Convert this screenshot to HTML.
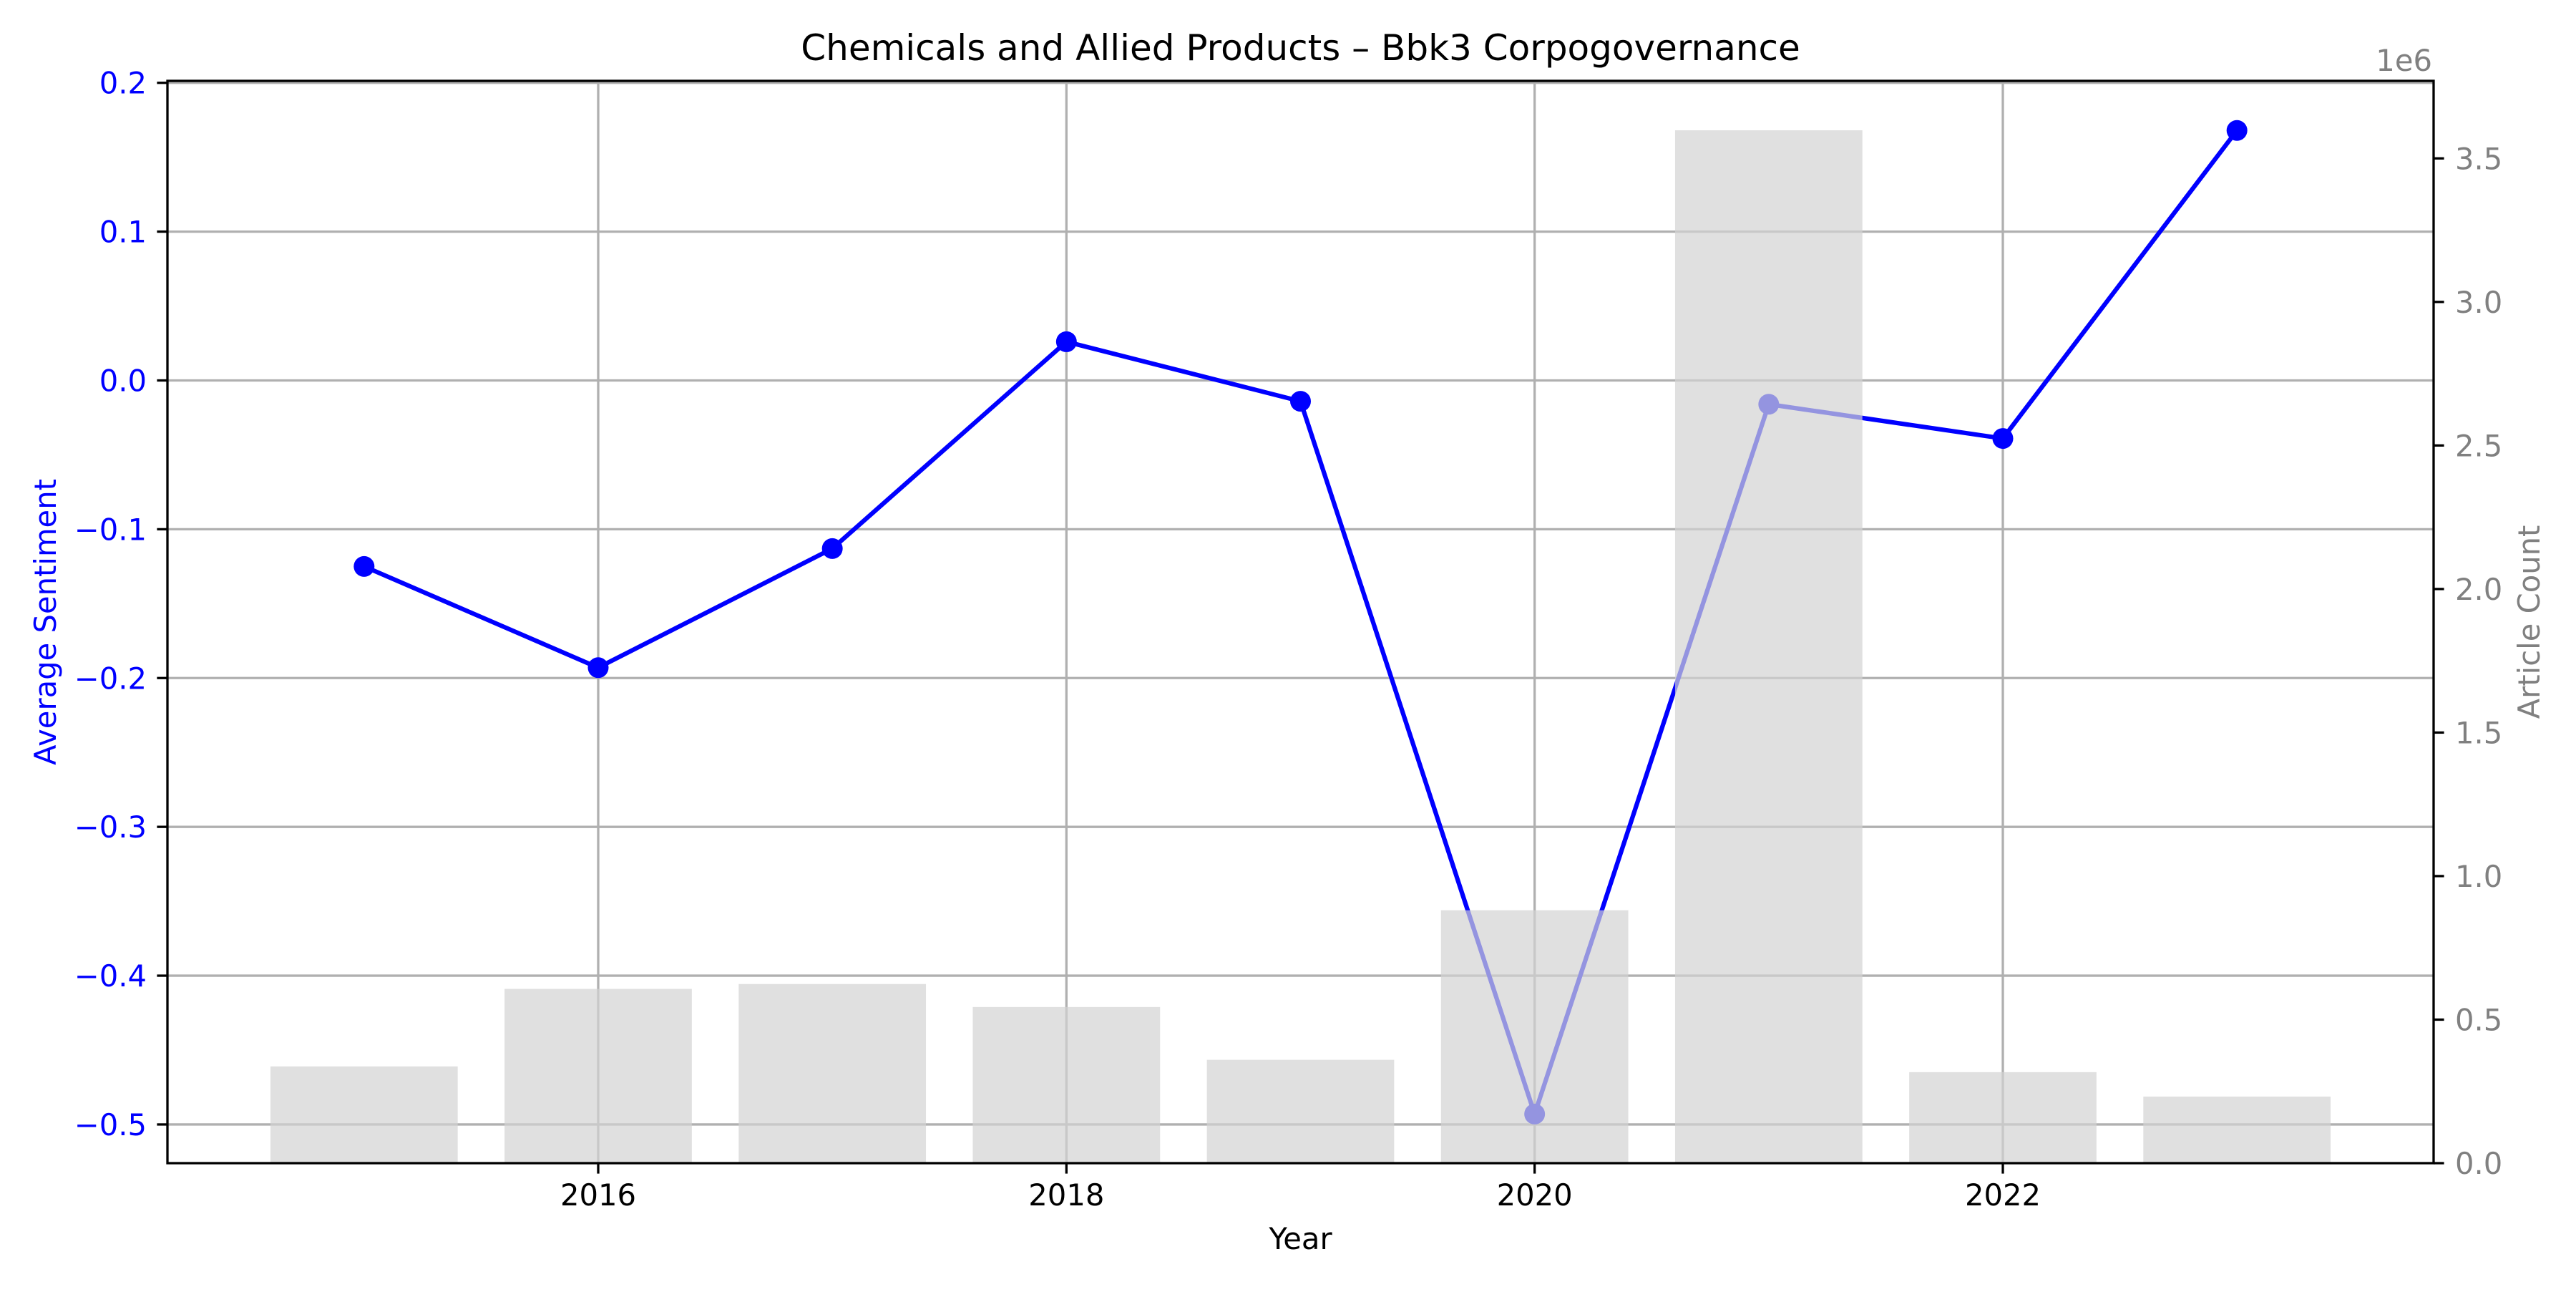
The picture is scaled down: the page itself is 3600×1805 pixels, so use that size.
<!DOCTYPE html>
<html><head><meta charset="utf-8"><style>
html,body{margin:0;padding:0;background:#fff}
svg text{font-family:"DejaVu Sans","Liberation Sans",sans-serif}
</style></head><body>
<svg id="chart" width="3600" height="1800" xmlns="http://www.w3.org/2000/svg">
<rect width="3600" height="1800" fill="#fff"/>
<g id="grid"></g><g id="line"></g><g id="bars"></g><g id="axes"></g>
</svg>
<script>
const years = [2015,2016,2017,2018,2019,2020,2021,2022,2023];
const sentiment = [-0.125,-0.193,-0.113,0.026,-0.014,-0.493,-0.016,-0.039,0.168];
const counts = [337000,607000,624000,544000,360000,881000,3598000,317000,232000];
const xTicks = [2016,2018,2020,2022];
const yTicks = [-0.5,-0.4,-0.3,-0.2,-0.1,0.0,0.1,0.2];
const y2Ticks = [0,0.5e6,1e6,1.5e6,2e6,2.5e6,3e6,3.5e6];

const L=234,R=3401,T=113,B=1625;
const NS='http://www.w3.org/2000/svg';
function X(v){return L+(v-2014.16)/(2023.84-2014.16)*(R-L);}
function Y(v){return B-(v-(-0.526))/(0.2013-(-0.526))*(B-T);}
function Y2(v){return B-v/3.770e6*(B-T);}
function mk(parent,tag,attrs,text){const e=document.createElementNS(NS,tag);for(const k in attrs)e.setAttribute(k,attrs[k]);if(text!==undefined)e.textContent=text;document.getElementById(parent).appendChild(e);return e;}
function fmt(v){return (v<0?'\u2212':'')+Math.abs(v).toFixed(1);}

xTicks.forEach(t=>{
  const g=mk('grid','line',{x1:X(t),x2:X(t),y1:T,y2:B,stroke:'#b0b0b0','stroke-width':3.3});
  
  
  const tk=mk('axes','line',{x1:X(t),x2:X(t),y1:B,y2:B+14.6,stroke:'#000','stroke-width':3.3});
  
  
  const tl=mk('axes','text',{x:X(t),y:1684,'font-size':41.7,'text-anchor':'middle',fill:'#000'},String(t));
  
  
});
yTicks.forEach(t=>{
  const g=mk('grid','line',{x1:L,x2:R,y1:Y(t),y2:Y(t),stroke:'#b0b0b0','stroke-width':3.3});
  
  
  const tk=mk('axes','line',{x1:L-14.6,x2:L,y1:Y(t),y2:Y(t),stroke:'#000','stroke-width':3.3});
  
  
  const tl=mk('axes','text',{x:205,y:Y(t)+15,'font-size':41.7,'text-anchor':'end',fill:'#0000ff'},fmt(t));
  
  
});
y2Ticks.forEach(t=>{
  const tk=mk('axes','line',{x1:R,x2:R+14.6,y1:Y2(t),y2:Y2(t),stroke:'#000','stroke-width':3.3});
  
  
  const tl=mk('axes','text',{x:3431,y:Y2(t)+15,'font-size':41.7,'text-anchor':'start',fill:'#808080'},(t/1e6).toFixed(1));
  
  
});

const pts=years.map((y,i)=>X(y)+','+Y(sentiment[i])).join(' ');
const pl=mk('line','polyline',{points:pts,fill:'none',stroke:'#0000ff','stroke-width':6.25,'stroke-linejoin':'round'});


years.forEach((y,i)=>{
  const c=mk('line','circle',{cx:X(y),cy:Y(sentiment[i]),r:14.5,fill:'#0000ff'});
  
  
});
years.forEach((y,i)=>{
  const b=mk('bars','rect',{x:X(y-0.4),y:Y2(counts[i]),width:X(y+0.4)-X(y-0.4),height:B-Y2(counts[i]),fill:'#d3d3d3','fill-opacity':0.7});
  
  
});

const fr=mk('axes','rect',{x:L,y:T,width:R-L,height:B-T,fill:'none',stroke:'#000','stroke-width':3.3});


const ti=mk('axes','text',{x:(L+R)/2,y:84,'font-size':50,'text-anchor':'middle',fill:'#000'},'Chemicals and Allied Products \u2013 Bbk3 Corpogovernance');


const xl=mk('axes','text',{x:(L+R)/2,y:1745,'font-size':41.7,'text-anchor':'middle',fill:'#000'},'Year');


const yl=mk('axes','text',{x:0,y:0,'font-size':41.7,'text-anchor':'middle',fill:'#0000ff',transform:'translate(78,'+((T+B)/2)+') rotate(-90)'},'Average Sentiment');


const y2l=mk('axes','text',{x:0,y:0,'font-size':41.7,'text-anchor':'middle',fill:'#808080',transform:'translate(3549,'+((T+B)/2)+') rotate(-90)'},'Article Count');


const off=mk('axes','text',{x:3399,y:99,'font-size':41.7,'text-anchor':'end',fill:'#808080'},'1e6');


</script>
</body></html>
